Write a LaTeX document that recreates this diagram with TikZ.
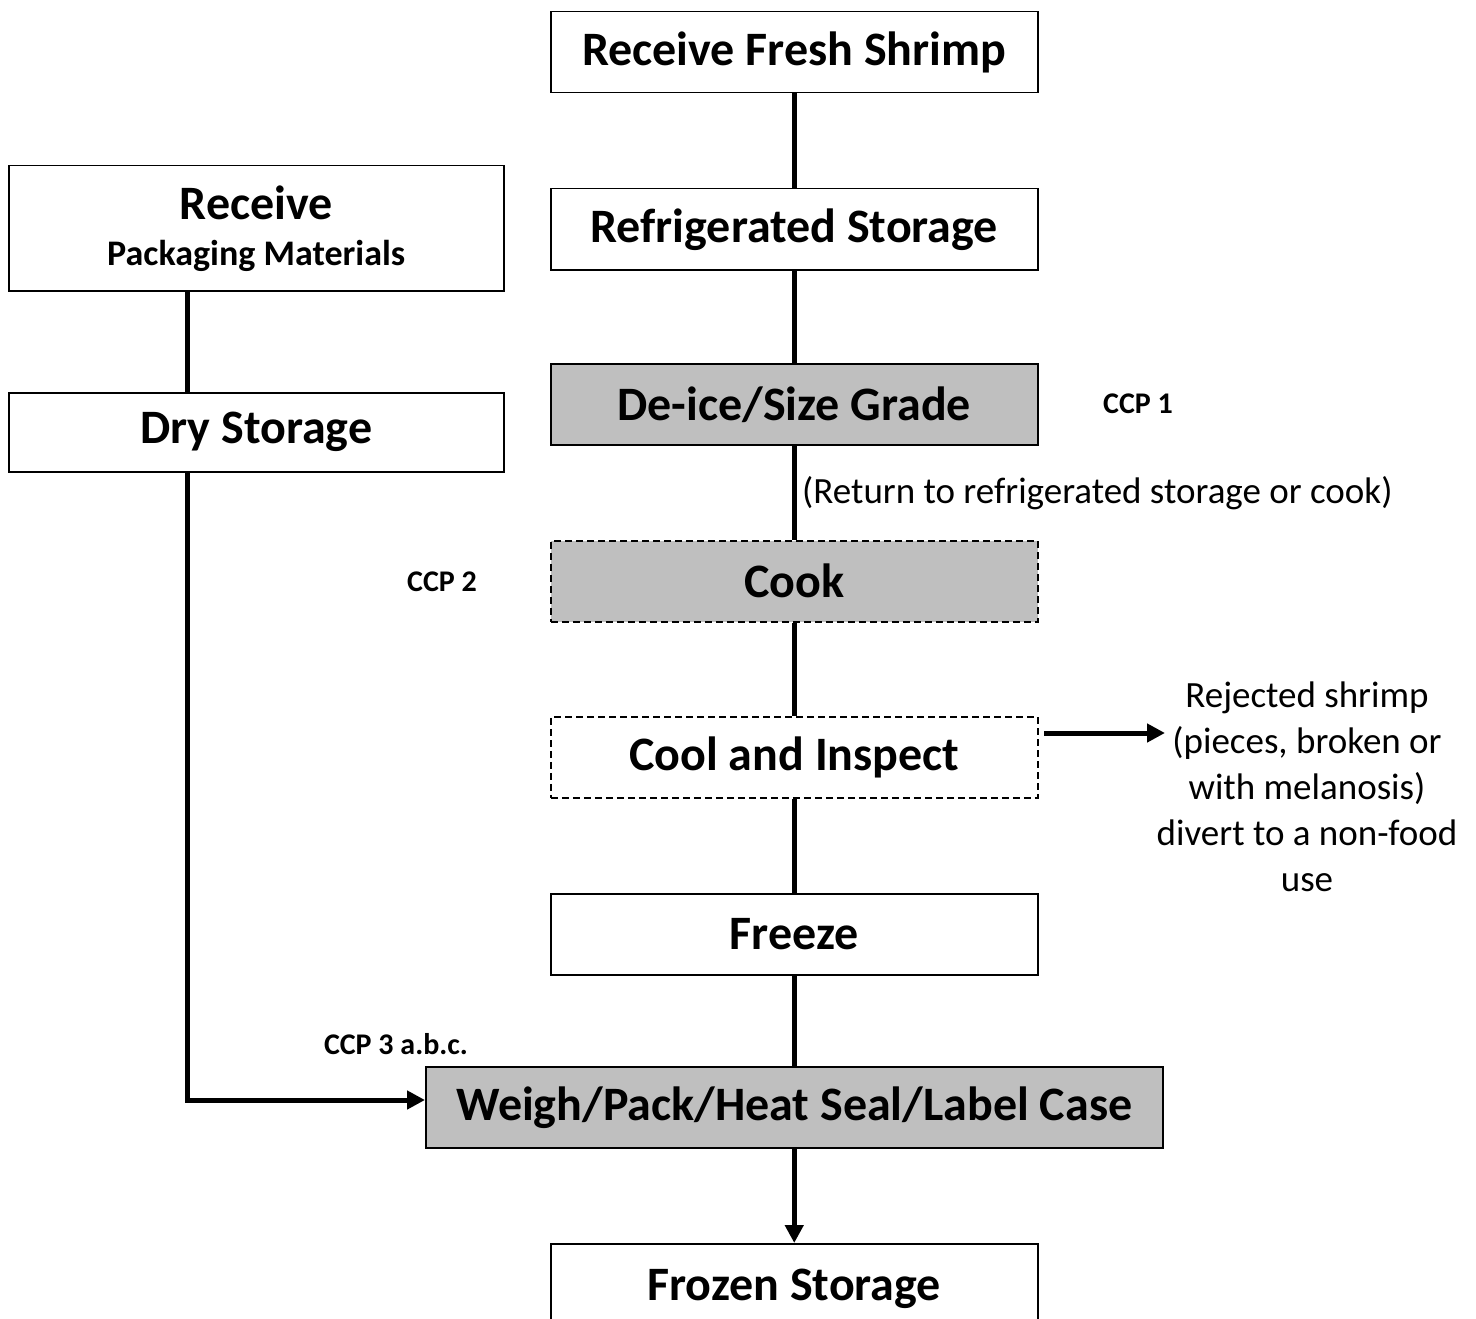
\documentclass[tikz,border=0pt]{standalone}
\usepackage{fontspec}
\setmainfont{Carlito}
\usetikzlibrary{arrows.meta}
\definecolor{boxgray}{HTML}{BFBFBF}
\tikzset{
  stepbox/.style={draw, line width=1.5pt, minimum height=81pt, inner sep=0pt, font=\fontsize{48}{56}\selectfont\bfseries, anchor=north west},
  grayfill/.style={fill=boxgray},
  dashbox/.style={dash pattern=on 7pt off 4pt},
  conn/.style={line width=5pt},
  arr/.style={line width=5pt, -{Triangle[length=18pt, width=18pt]}},
  ccp/.style={font=\fontsize{30}{36}\selectfont\bfseries},
}
\begin{document}
\begin{tikzpicture}[x=1pt, y=-1pt]
\useasboundingbox (0,0) rectangle (1476,1319);
\node[stepbox, minimum width=487pt] (rfs) at (550,11) {Receive Fresh Shrimp};
\node[stepbox, minimum width=487pt] (ref) at (550,188) {Refrigerated Storage};
\node[stepbox, grayfill, minimum width=487pt] (dei) at (550,363) {De-ice/Size Grade};
\node[stepbox, grayfill, dashbox, minimum width=487pt] (cook) at (550,540) {Cook};
\node[stepbox, dashbox, minimum width=487pt] (cool) at (550,716) {Cool and Inspect};
\node[stepbox, minimum width=487pt] (frz) at (550,893) {Freeze};
\node[stepbox, grayfill, minimum width=737pt] (wp) at (425,1066) {Weigh/Pack/Heat Seal/Label Case};
\node[stepbox, minimum width=487pt, minimum height=90pt] (fs) at (550,1243) {\raisebox{6pt}{Frozen Storage}};
\node[stepbox, minimum width=495pt, minimum height=125pt, align=center] (rpm) at (8,165)
  {Receive\\[-10pt]{\fontsize{36}{42}\selectfont Packaging Materials}};
\node[stepbox, minimum width=495pt, minimum height=79pt] (dry) at (8,392) {\raisebox{-3pt}{Dry Storage}};

\node[ccp] (c1) at (1138,404) {CCP 1};
\node[ccp] (c2) at (442,582) {CCP 2};
\node[ccp] (c3) at (396,1044) {CCP 3 a.b.c.};
\node[font=\fontsize{37}{44}\selectfont, anchor=west, inner sep=0pt] (ret) at (802,493) {(Return to refrigerated storage or cook)};
\node[font=\fontsize{37}{46}\selectfont, align=center] (rej) at (1307,787)
  {Rejected shrimp\\(pieces, broken or\\with melanosis)\\divert to a non-food\\use};

\draw[conn] (rfs.south) -- (ref.north);
\draw[conn] (ref.south) -- (dei.north);
\draw[conn] (dei.south) -- (cook.north);
\draw[conn] (cook.south) -- (cool.north);
\draw[conn] (cool.south) -- (frz.north);
\draw[conn] (frz.south) -- (wp.north -| frz.south);
\draw[arr] (wp.south -| frz.south) -- (fs.north);
\coordinate (leftx) at (187,0);
\draw[conn] (rpm.south -| leftx) -- (dry.north -| leftx);
\coordinate (corner) at (187,1100);
\draw[arr] (dry.south -| corner) -- (corner) -- (wp.west |- corner);
\coordinate (rejstart) at (1044,733);
\coordinate (rejend) at (1165,733);
\draw[arr] (rejstart) -- (rejend);
\end{tikzpicture}
\end{document}
